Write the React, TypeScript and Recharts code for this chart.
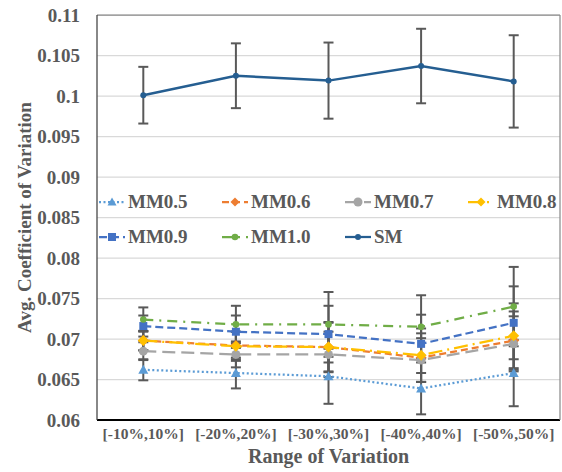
import { LineChart, Line, XAxis, YAxis, CartesianGrid, ErrorBar, ReferenceLine } from 'recharts';

const categories = ['[-10%,10%]', '[-20%,20%]', '[-30%,30%]', '[-40%,40%]', '[-50%,50%]'];

const mm05 = [0.0662, 0.0658, 0.0654, 0.0639, 0.0658];
const mm06 = [0.0698, 0.0692, 0.069, 0.0677, 0.0698];
const mm07 = [0.0685, 0.0681, 0.0681, 0.0674, 0.0694];
const mm08 = [0.0698, 0.0691, 0.069, 0.068, 0.0704];
const mm09 = [0.0716, 0.0709, 0.0706, 0.0694, 0.072];
const mm10 = [0.0724, 0.0718, 0.0718, 0.0715, 0.074];
const sm = [0.1001, 0.1025, 0.1019, 0.1037, 0.1018];

const mm05Err = [0.0013, 0.0019, 0.0034, 0.0032, 0.0041];
const mm06Err = [0.0012, 0.0017, 0.003, 0.003, 0.0036];
const mm07Err = [0.0011, 0.0016, 0.0028, 0.0027, 0.0034];
const mm08Err = [0.0012, 0.0018, 0.0031, 0.0033, 0.004];
const mm09Err = [0.0013, 0.002, 0.0035, 0.0036, 0.0045];
const mm10Err = [0.0015, 0.0023, 0.004, 0.0039, 0.0049];
const smErr = [0.0035, 0.004, 0.0047, 0.0046, 0.0057];

const yTicks = [0.06, 0.065, 0.07, 0.075, 0.08, 0.085, 0.09, 0.095, 0.1, 0.105, 0.11];

type Shape = 'triangle' | 'diamond' | 'circle' | 'square';

const series = [
  { key: 'MM0.5', values: mm05, errs: mm05Err, color: '#5B9BD5', dash: '2 2.5', shape: 'triangle' as Shape, size: 5 },
  { key: 'MM0.6', values: mm06, errs: mm06Err, color: '#ED7D31', dash: '7 4', shape: 'diamond' as Shape, size: 5.5 },
  { key: 'MM0.7', values: mm07, errs: mm07Err, color: '#A5A5A5', dash: '13 6', shape: 'circle' as Shape, size: 4.5 },
  { key: 'MM0.8', values: mm08, errs: mm08Err, color: '#FFC000', dash: '14 5 2 5', shape: 'diamond' as Shape, size: 5.5 },
  { key: 'MM0.9', values: mm09, errs: mm09Err, color: '#4472C4', dash: '8 4', shape: 'square' as Shape, size: 4 },
  { key: 'MM1.0', values: mm10, errs: mm10Err, color: '#70AD47', dash: '10 6 2 6', shape: 'circle' as Shape, size: 3.3 },
  { key: 'SM', values: sm, errs: smErr, color: '#255E91', dash: undefined, shape: 'circle' as Shape, size: 3 },
];

const data = categories.map((name, i) => {
  const row: Record<string, any> = { name };
  series.forEach((s) => {
    row[s.key] = s.values[i];
    row[s.key + '_err'] = s.errs[i];
  });
  return row;
});

const TEXT = '#595959';
const FONT = '"Liberation Serif", "Times New Roman", serif';

function Marker({ cx, cy, shape, size, color }: { cx: number; cy: number; shape: Shape; size: number; color: string }) {
  if (cx == null || cy == null) return null;
  if (shape === 'triangle') {
    return <polygon points={`${cx},${cy - size} ${cx + size},${cy + size * 0.8} ${cx - size},${cy + size * 0.8}`} fill={color} />;
  }
  if (shape === 'diamond') {
    return <polygon points={`${cx},${cy - size} ${cx + size},${cy} ${cx},${cy + size} ${cx - size},${cy}`} fill={color} />;
  }
  if (shape === 'square') {
    return <rect x={cx - size} y={cy - size} width={size * 2} height={size * 2} fill={color} />;
  }
  return <circle cx={cx} cy={cy} r={size} fill={color} />;
}

function LegendItem({ s }: { s: (typeof series)[number] }) {
  return (
    <div style={{ display: 'flex', alignItems: 'center', width: 123 }}>
      <svg width={28} height={14} style={{ marginRight: 2 }}>
        <line x1={1} y1={7} x2={27} y2={7} stroke={s.color} strokeWidth={2.25} strokeDasharray={s.dash} />
        <Marker cx={14} cy={7} shape={s.shape} size={Math.min(s.size, 4.5)} color={s.color} />
      </svg>
      <span>{s.key}</span>
    </div>
  );
}

function YLabel(props: any) {
  const vb = props.viewBox || {};
  const cy = vb.y + vb.height / 2;
  return (
    <text x={31} y={cy} transform={`rotate(-90, 31, ${cy})`} textAnchor="middle" fill={TEXT} fontSize={19} fontWeight="bold" fontFamily={FONT}>
      Avg. Coefficient of Variation
    </text>
  );
}

export default function App() {
  return (
    <div style={{ position: 'absolute', left: 0, top: 0, width: 562, height: 472, background: '#fff', fontFamily: FONT }}>
      <LineChart width={562} height={472} data={data} margin={{ top: 15, right: 0, bottom: 0, left: 0 }}>
        <CartesianGrid vertical={false} stroke="#d9d9d9" strokeWidth={1.25} />
        <XAxis
          dataKey="name"
          scale="band"
          height={52}
          tickLine={false}
          axisLine={{ stroke: '#000', strokeWidth: 2 }}
          tick={{ fill: TEXT, fontSize: 15.5, fontWeight: 'bold', fontFamily: FONT }}
          interval={0}
          label={{ value: 'Range of Variation', position: 'insideBottom', offset: 9, fill: TEXT, fontSize: 20, fontWeight: 'bold', fontFamily: FONT }}
        />
        <YAxis
          width={97}
          domain={[0.06, 0.11]}
          ticks={yTicks}
          tickLine={false}
          tickMargin={11}
          axisLine={{ stroke: '#404040', strokeWidth: 1.25 }}
          tick={{ fill: TEXT, fontSize: 19, fontWeight: 'bold', fontFamily: FONT }}
          tickFormatter={(v: number) => String(parseFloat(v.toFixed(3)))}
          label={<YLabel />}
        />
        <YAxis yAxisId="r" orientation="right" width={2} domain={[0.06, 0.11]} tick={false} tickLine={false} axisLine={{ stroke: '#8c8c8c', strokeWidth: 1.25 }} />
        <ReferenceLine y={0.11} stroke="#8c8c8c" strokeWidth={1.25} />
        {/* error bars first so that lines and markers sit on top */}
        {series.map((s) => (
          <Line
            key={s.key + '-err'}
            dataKey={s.key}
            stroke="none"
            dot={false}
            activeDot={false}
            legendType="none"
            isAnimationActive={false}
          >
            <ErrorBar dataKey={s.key + '_err'} direction="y" width={5} stroke="#595959" strokeWidth={2} />
          </Line>
        ))}
        {series.map((s) => (
          <Line
            key={s.key}
            dataKey={s.key}
            stroke={s.color}
            strokeWidth={s.key === 'SM' ? 2.5 : 2.25}
            strokeDasharray={s.dash}
            isAnimationActive={false}
            dot={(p: any) => <Marker key={`${s.key}-${p.index}`} cx={p.cx} cy={p.cy} shape={s.shape} size={s.size} color={s.color} />}
            activeDot={false}
          />
        ))}
      </LineChart>
      <div
        style={{
          position: 'absolute',
          left: 98,
          top: 191,
          width: 500,
          display: 'flex',
          flexWrap: 'wrap',
          rowGap: 13,
          color: TEXT,
          fontSize: 19,
          fontWeight: 'bold',
          lineHeight: '22px',
        }}
      >
        {series.map((s) => (
          <LegendItem key={s.key} s={s} />
        ))}
      </div>
    </div>
  );
}
